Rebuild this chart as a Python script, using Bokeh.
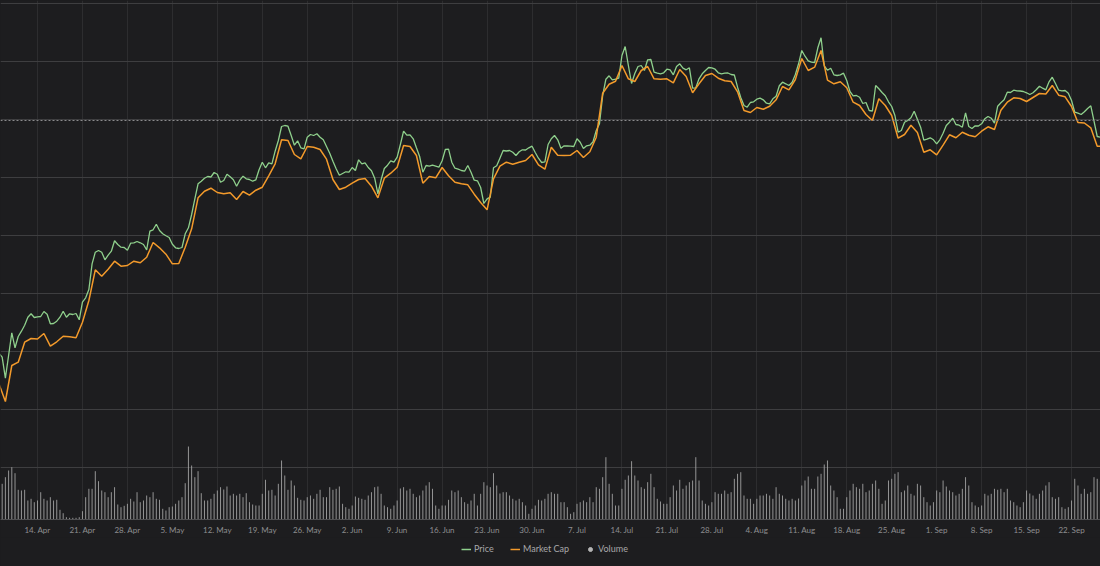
import pandas as pd
from bokeh.plotting import figure
from bokeh.layouts import column
from bokeh.models import (Range1d, FixedTicker, SingleIntervalTicker, Span, Legend, LegendItem,
                          Grid, GlobalInlineStyleSheet)
from bokeh.embed import file_html
from bokeh.resources import INLINE

# ---------------- data ----------------
# Price, sampled every 12 hours from 8 Apr 2025 00:00
price = [
    17.23, 16.83, 14.73, 17.00, 19.27, 17.77, 18.90, 19.43, 20.03, 20.83,
    21.17, 20.80, 20.87, 20.90, 21.40, 21.13, 20.17, 20.20, 20.43, 20.83,
    21.43, 20.83, 21.17, 21.10, 21.20, 20.57, 22.33, 22.77, 23.60, 26.17,
    27.33, 27.50, 27.33, 26.57, 27.03, 27.43, 28.47, 28.10, 27.83, 27.80,
    27.53, 28.23, 28.27, 28.40, 28.27, 28.10, 27.57, 29.43, 29.57, 30.13,
    29.50, 29.17, 28.97, 28.80, 28.13, 27.77, 27.70, 27.80, 29.17, 29.77,
    31.10, 32.67, 34.17, 34.43, 34.73, 34.90, 34.85, 35.30, 35.13, 34.33,
    34.50, 35.13, 34.87, 34.57, 33.93, 34.53, 34.93, 34.67, 34.60, 34.43,
    34.57, 35.57, 36.33, 35.77, 36.27, 36.17, 37.43, 38.50, 39.90, 40.00,
    39.93, 39.00, 38.03, 38.47, 37.77, 37.67, 38.83, 39.10, 39.00, 39.17,
    38.83, 38.57, 37.90, 37.23, 36.43, 35.67, 35.03, 35.20, 35.37, 35.33,
    35.80, 35.50, 36.57, 36.17, 36.27, 35.80, 35.47, 34.73, 33.17, 34.57,
    35.70, 36.03, 36.47, 36.33, 36.83, 38.10, 39.43, 39.03, 39.07, 38.67,
    37.77, 36.90, 35.33, 36.00, 35.93, 36.03, 35.93, 35.83, 36.47, 37.60,
    37.63, 36.33, 35.73, 35.63, 35.50, 35.43, 36.00, 35.33, 34.53, 34.47,
    33.80, 32.20, 32.67, 32.83, 35.77, 35.97, 36.73, 37.50, 37.45, 37.50,
    37.33, 37.00, 37.37, 37.57, 37.55, 37.77, 37.93, 37.30, 36.73, 36.30,
    36.37, 38.10, 38.67, 39.00, 38.57, 37.73, 37.97, 37.95, 37.93, 37.90,
    38.67, 38.33, 37.70, 37.97, 38.03, 38.37, 39.50, 40.17, 43.00, 44.63,
    44.97, 44.57, 44.63, 44.73, 47.00, 47.90, 46.00, 44.20, 45.20, 45.90,
    46.00, 45.50, 46.57, 46.60, 45.33, 45.23, 45.17, 45.27, 45.63, 45.57,
    45.07, 45.90, 46.17, 45.73, 45.57, 45.77, 43.73, 43.77, 44.67, 45.17,
    45.50, 45.80, 45.77, 45.63, 45.27, 45.17, 45.23, 45.25, 45.10, 45.05,
    43.83, 42.80, 42.00, 41.83, 42.30, 42.37, 42.63, 42.73, 42.57, 42.23,
    42.17, 42.67, 42.93, 43.97, 44.33, 44.17, 44.00, 44.33, 45.10, 46.17,
    47.50, 46.93, 46.47, 46.33, 46.30, 47.77, 48.77, 45.97, 45.53, 45.73,
    45.07, 45.00, 45.07, 45.23, 44.50, 43.40, 42.97, 43.00, 42.83, 42.20,
    42.30, 41.50, 41.45, 44.00, 43.67, 43.30, 42.97, 42.37, 41.90, 41.00,
    39.33, 39.50, 40.33, 40.50, 40.77, 41.43, 40.63, 39.83, 38.53, 38.63,
    38.77, 38.57, 38.17, 38.57, 39.23, 40.00, 40.33, 40.73, 40.10, 40.03,
    39.83, 41.27, 39.90, 39.70, 39.97, 39.95, 40.17, 40.67, 40.90, 40.73,
    40.23, 41.93, 42.27, 42.57, 43.33, 43.30, 43.53, 43.47, 43.45, 43.40,
    43.27, 43.10, 43.27, 43.57, 43.93, 43.73, 43.57, 44.37, 44.83, 44.20,
    43.53, 43.47, 43.50, 43.23, 42.50, 41.33, 41.23, 41.10, 41.37, 41.70,
    41.97, 40.43, 38.90, 38.83,
]

# Market cap (millions), daily from 8 Apr 2025
market_cap = [
    1417, 1240, 1600, 1633, 1833, 1870, 1865, 1920, 1793, 1837,
    1893, 1887, 1877, 2033, 2250, 2557, 2493, 2563, 2643, 2593,
    2600, 2643, 2627, 2683, 2830, 2777, 2713, 2617, 2620, 2783,
    2967, 3277, 3343, 3373, 3330, 3317, 3327, 3260, 3340, 3303,
    3353, 3383, 3497, 3617, 3857, 3850, 3710, 3667, 3790, 3783,
    3760, 3663, 3460, 3360, 3383, 3423, 3460, 3470, 3393, 3277,
    3473, 3523, 3583, 3800, 3790, 3700, 3423, 3490, 3477, 3580,
    3497, 3433, 3417, 3407, 3313, 3230, 3157, 3467, 3593, 3633,
    3613, 3633, 3650, 3710, 3607, 3563, 3783, 3703, 3700, 3703,
    3750, 3680, 3737, 3883, 4323, 4413, 4443, 4600, 4467, 4440,
    4550, 4590, 4467, 4463, 4467, 4427, 4560, 4490, 4327, 4417,
    4500, 4520, 4473, 4447, 4440, 4337, 4150, 4130, 4180, 4163,
    4193, 4257, 4390, 4357, 4460, 4670, 4550, 4583, 4750, 4453,
    4417, 4437, 4377, 4233, 4200, 4110, 4050, 4267, 4200, 4100,
    3873, 3910, 4003, 3930, 3733, 3757, 3707, 3803, 3907, 3877,
    3933, 3903, 3887, 3943, 3987, 3960, 4153, 4233, 4277, 4270,
    4240, 4280, 4320, 4315, 4400, 4303, 4287, 4190, 4030, 4025,
    3977, 3793, 3790,
]

# Volume (millions), every 12 hours from 8 Apr 2025 00:00
volume = [
    31, 35.7, 42.3, 49, 52.3, 46.3, 29.7, 29, 29.7, 19, 20.7, 17.3, 19, 27.3, 20.7, 19, 22.3, 19, 19.7, 9.7,
    6.3, 2.3, 1.7, 1.7, 1.7, 2.3, 8.3, 22.3, 30.7, 30.7, 48.3, 38.3, 29, 27.3, 22.3, 27.3, 32.3, 15, 12.3, 13.7,
    15.7, 20.7, 18, 27.3, 17.3, 19, 24, 22.3, 27.3, 20.7, 19.7, 10.7, 9, 12.3, 13, 15.7, 19, 22.3, 36.3, 73,
    54, 42.3, 48.3, 26.3, 19, 19, 20.7, 25.7, 29, 32.3, 30, 33, 24, 25.7, 24, 25.7, 22.3, 26.3, 17.3, 15,
    14, 14, 25.7, 39.7, 29, 29.7, 24, 35.7, 59, 44, 29.7, 39, 34, 21.7, 19.7, 19, 22.3, 24, 20.7, 25.7,
    29.7, 22.3, 22.3, 32.3, 29.7, 30.7, 33, 15.7, 12.3, 10.7, 14, 23, 21.7, 20.7, 19.7, 24, 27.3, 32.3, 33, 25.7,
    14, 12.3, 10.7, 14, 19,
    31, 32.3, 29, 30.7, 25.7, 22.3, 24, 29, 34, 37.3, 30.7, 14, 10.7, 14, 14, 19.7, 29, 27.3, 29, 22.3,
    17.3, 15.7, 19, 25.7, 14, 25.7, 37.3, 34, 32.3, 46.3, 34, 26, 27.3, 27.3, 24, 20.7, 19, 20.7, 17.3, 14,
    5.7, 10.7, 14, 19.7, 19, 20.7, 25.7, 27.3, 25.7, 25.7, 17.3, 17.3, 12.3, 5.7, 7.3, 15.7, 17.3, 19, 17.3, 22.3,
    17.3, 32.3, 30.7, 42.3, 62.3,
    35.7, 25.7, 14, 14, 30.7, 39.7, 44, 58.3, 44, 39, 32.3, 30.7, 37.3, 45.7, 32.3, 20.7, 18, 15.7, 15.7, 22.3,
    34, 29, 39.7, 30.7, 34, 37.3, 39, 62.3, 39, 19, 15.7, 14, 17.3, 27.3, 25.7, 25.7, 29, 25.7, 27.3, 40.7,
    45.7, 47.3, 24, 20.7, 20.7, 15.7, 20.7, 24, 24, 25.7, 24, 20.7, 32.3, 25.7, 24, 20.7, 19, 20.7, 19, 21,
    34, 39, 43, 30.7, 30.7, 43, 45.7, 55, 59, 34, 29, 22.3, 10.7, 10.7, 22.3, 29, 35.7, 32.3, 30.7, 35.7,
    27.3, 29, 35.7, 39, 30.7, 15.7, 19, 39, 40.7, 45.7, 47.3, 27.3, 29, 34, 25.7, 24, 35.7, 34, 22.3, 17.3,
    14, 17.3, 29, 27.3, 39, 33, 29, 27.3, 24, 25.7, 30.7, 42.3, 34, 17.3, 14, 12.3, 14, 25.7, 24, 25.7,
    30.7, 29.7, 30.7, 27.3, 30.7, 19, 17.3, 14, 12.3, 17.3, 29, 26, 24, 20.7, 25.7, 29, 34, 37.3, 22.3, 20.7,
    22.3, 12.3, 10.7, 12.3, 19, 40.7, 34, 25.7, 30.7, 25.7, 27.3, 42.3, 40.7, 38,
]

tick_dates = ["2025-04-14", "2025-04-21", "2025-04-28", "2025-05-05", "2025-05-12", "2025-05-19",
              "2025-05-26", "2025-06-02", "2025-06-09", "2025-06-16", "2025-06-23", "2025-06-30",
              "2025-07-07", "2025-07-14", "2025-07-21", "2025-07-28", "2025-08-04", "2025-08-11",
              "2025-08-18", "2025-08-25", "2025-09-01", "2025-09-08", "2025-09-15", "2025-09-22"]
tick_labels = ["14. Apr", "21. Apr", "28. Apr", "5. May", "12. May", "19. May", "26. May",
               "2. Jun", "9. Jun", "16. Jun", "23. Jun", "30. Jun", "7. Jul", "14. Jul",
               "21. Jul", "28. Jul", "4. Aug", "11. Aug", "18. Aug", "25. Aug", "1. Sep",
               "8. Sep", "15. Sep", "22. Sep"]
series_names = ["Price", "Market Cap", "Volume"]

reference_price = 40.5   # dotted start-price line

# ---------------- styling ----------------
BG = "#1d1d1f"
GREEN = "#8fd08c"
ORANGE = "#f39a2b"
GREY = "#a9a9a9"
FONT = "Lato"

price_times = pd.date_range("2025-04-08 00:00", periods=len(price), freq="12h")
mcap_times = pd.date_range("2025-04-08 00:00", periods=len(market_cap), freq="D")
vol_times = pd.date_range("2025-04-08 00:00", periods=len(volume), freq="12h")

p = figure(width=1100, height=537, x_axis_type="datetime", y_axis_location=None,
           output_backend="svg", toolbar_location=None,
           x_range=Range1d(pd.Timestamp("2025-04-08 05:45"), pd.Timestamp("2025-09-26 12:15")),
           y_range=Range1d(0.6, 52.5),
           min_border_left=0, min_border_right=0, min_border_top=0, min_border_bottom=16,
           background_fill_color=BG, border_fill_color=BG, outline_line_color=None)
p.extra_y_ranges = {"mcap": Range1d(60, 5250), "vol": Range1d(0, 519)}

p.stylesheets = [GlobalInlineStyleSheet(
    css="html,body{margin:0;padding:0;background:#1d1d1f;overflow:hidden;}")]

# grids
p.xgrid.grid_line_color = "#2d2d2f"
p.ygrid.grid_line_color = None
hgrid = Grid(dimension=1, ticker=SingleIntervalTicker(interval=5.8))
hgrid.grid_line_color = "#3e3e40"
hgrid.grid_line_width = 1
p.add_layout(hgrid)

# x axis
ticks = [float(pd.Timestamp(d).value // 10**6) for d in tick_dates]
ax = p.xaxis[0]
ax.ticker = FixedTicker(ticks=ticks)
ax.major_label_overrides = {t: lab for t, lab in zip(ticks, tick_labels)}
ax.axis_line_color = "#505052"
ax.major_tick_line_color = None
ax.minor_tick_line_color = None
ax.major_tick_out = 0
ax.major_tick_in = 0
ax.major_label_standoff = 5
ax.major_label_text_font = FONT
ax.major_label_text_font_size = "8px"
ax.major_label_text_color = "#8e8e90"

# series
p.segment(x0=vol_times, y0=0, x1=vol_times, y1=volume, y_range_name="vol",
          line_color=GREY, line_width=1, line_alpha=0.85)
p.line(price_times, price, line_color=GREEN, line_width=1.3)
p.line(mcap_times, market_cap, y_range_name="mcap", line_color=ORANGE, line_width=1.5)

p.add_layout(Span(location=reference_price, dimension="width", line_color="#8a8a8c",
                  line_dash="2 2", line_width=1.2))

# ---------------- legend strip below the axis ----------------
lg = figure(width=1100, height=29, output_backend="svg", toolbar_location=None,
            x_axis_location=None, y_axis_location=None,
            x_range=Range1d(0, 1), y_range=Range1d(0, 1),
            min_border_left=0, min_border_right=0, min_border_top=0, min_border_bottom=0,
            background_fill_color=BG, border_fill_color=BG, outline_line_color=None)
lg.xgrid.visible = False
lg.ygrid.visible = False
k_price = lg.line(x=[-5, -4], y=[-5, -4], line_color=GREEN, line_width=1.5)
k_mcap = lg.line(x=[-5, -4], y=[-5, -4], line_color=ORANGE, line_width=1.5)
k_vol = lg.scatter(x=[-5], y=[-5], marker="circle", size=9, fill_color="#b5b5b5",
                   line_color="#b5b5b5")

legend = Legend(items=[LegendItem(label=series_names[0], renderers=[k_price]),
                       LegendItem(label=series_names[1], renderers=[k_mcap]),
                       LegendItem(label=series_names[2], renderers=[k_vol])],
                orientation="horizontal", location=(461, 12))
legend.label_text_font = FONT
legend.label_text_font_size = "9px"
legend.label_text_color = "#a8a8aa"
legend.background_fill_alpha = 0
legend.border_line_color = None
legend.glyph_width = 10
legend.glyph_height = 10
legend.label_height = 10
legend.label_standoff = 3
legend.spacing = 16
legend.padding = 0
legend.margin = 0
lg.add_layout(legend, "center")

layout = column(p, lg, spacing=0)

open("out.html", "w").write(file_html(layout, INLINE))
